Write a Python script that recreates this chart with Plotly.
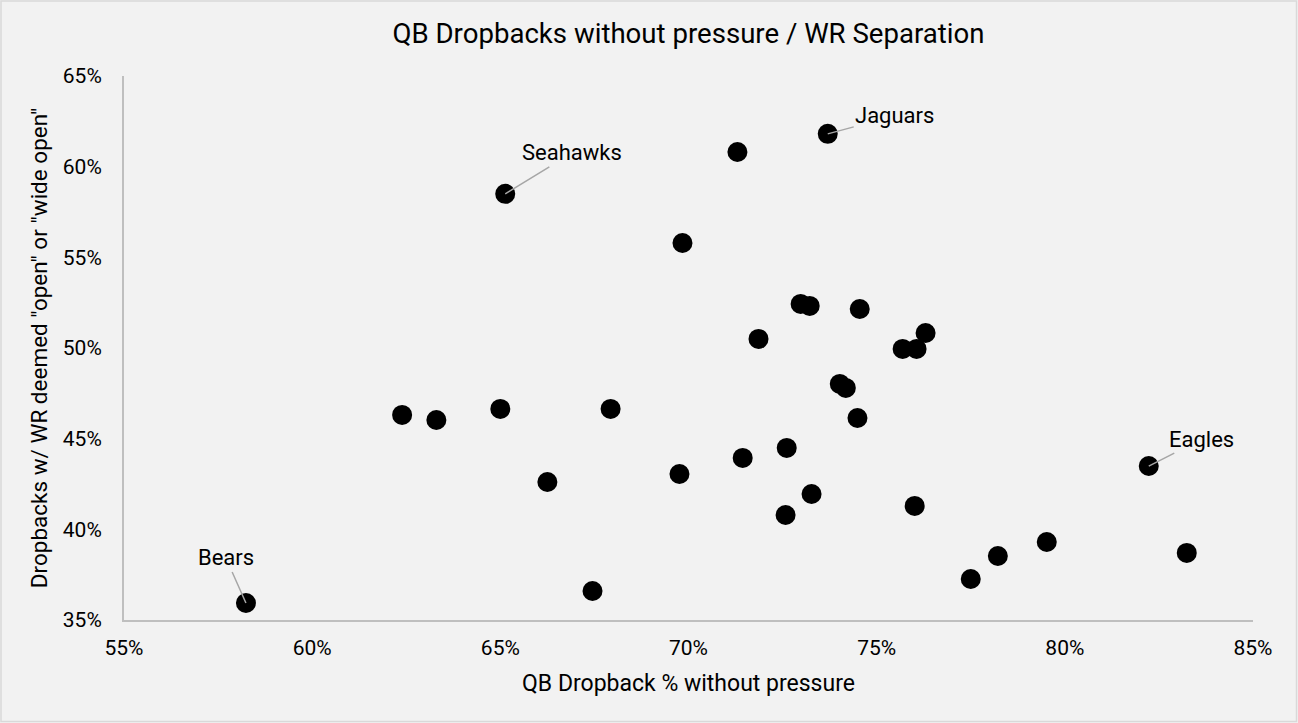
import plotly.graph_objects as go

# Data (fractions)
teams = ["Bears", "Seahawks", "", "Jaguars", "", "", "", "", "", "", "", "", "", "", "",
         "", "", "", "", "", "", "", "", "", "", "", "Eagles", "", "", "", "", ""]
no_pressure = [0.5824, 0.6513, 0.7130, 0.7370, 0.6984, 0.7298, 0.7322, 0.7455, 0.7186, 0.7630,
               0.7569, 0.7606, 0.7402, 0.7418, 0.7449, 0.6239, 0.6330, 0.6500, 0.6793, 0.7261,
               0.7144, 0.6976, 0.6625, 0.7327, 0.7258, 0.7601, 0.8223, 0.7952, 0.7822, 0.7750,
               0.8324, 0.6745]
wr_open = [0.3594, 0.5850, 0.6081, 0.6181, 0.5579, 0.5243, 0.5232, 0.5215, 0.5050, 0.5083,
           0.4995, 0.4995, 0.4802, 0.4780, 0.4614, 0.4631, 0.4603, 0.4664, 0.4664, 0.4449,
           0.4394, 0.4305, 0.4261, 0.4195, 0.4079, 0.4129, 0.4349, 0.3930, 0.3853, 0.3726,
           0.3870, 0.3660]
x_ticks = [0.55, 0.60, 0.65, 0.70, 0.75, 0.80, 0.85]
y_ticks = [0.35, 0.40, 0.45, 0.50, 0.55, 0.60, 0.65]
label_offsets = {"Bears": (-20, -45), "Seahawks": (67, -41), "Jaguars": (67, -18), "Eagles": (53, -27)}

fig = go.Figure()
fig.add_trace(go.Scatter(
    x=no_pressure, y=wr_open, mode="markers",
    marker=dict(size=20, color="#000000", line=dict(width=0)),
    hoverinfo="x+y", showlegend=False,
))

for name, x, y in zip(teams, no_pressure, wr_open):
    if name:
        ax, ay = label_offsets[name]
        fig.add_annotation(x=x, y=y, text=name, showarrow=True, arrowhead=0,
                           arrowwidth=1.5, arrowcolor="#a6a6a6", ax=ax, ay=ay,
                           font=dict(size=22, color="#000000"))

W, H = 1298, 723
ml, mr, mt, mb = 124, 45, 76, 103
pw, ph = W - ml - mr, H - mt - mb
fig.add_shape(type="rect", xref="paper", yref="paper",
              x0=-(ml - 1) / pw, x1=1 + (mr - 1.5) / pw,
              y0=-(mb - 1.5) / ph, y1=1 + (mt - 1) / ph,
              line=dict(color="#d9d9d9", width=1.5), layer="below")

fig.update_layout(
    width=W, height=H,
    margin=dict(l=ml, r=mr, t=mt, b=mb),
    paper_bgcolor="#f2f2f2", plot_bgcolor="#f2f2f2",
    font=dict(family="Roboto", size=21, color="#000000"),
    title=dict(text="QB Dropbacks without pressure / WR Separation",
               x=0.5, xref="paper", y=1 - 33 / H, yanchor="middle",
               font=dict(size=27.6, color="#000000")),
    xaxis=dict(range=[0.55, 0.85], tickvals=x_ticks, tickformat=".0%",
               showgrid=False, zeroline=False, showline=True,
               linecolor="#bfbfbf", linewidth=2,
               ticks="outside", ticklen=8, tickcolor="rgba(0,0,0,0)",
               tickfont=dict(size=21),
               title=dict(text="QB Dropback % without pressure", font=dict(size=23), standoff=16)),
    yaxis=dict(range=[0.35, 0.65], tickvals=y_ticks, tickformat=".0%",
               showgrid=False, zeroline=False, showline=True,
               linecolor="#bfbfbf", linewidth=2,
               ticks="outside", ticklen=16, tickcolor="rgba(0,0,0,0)",
               tickfont=dict(size=21),
               title=dict(text='Dropbacks w/ WR deemed "open" or "wide open"', font=dict(size=22.5), standoff=9)),
)

fig.write_html("out.html", config={"displayModeBar": False},
               post_script="document.body.style.margin='0';document.body.style.overflow='hidden';")
